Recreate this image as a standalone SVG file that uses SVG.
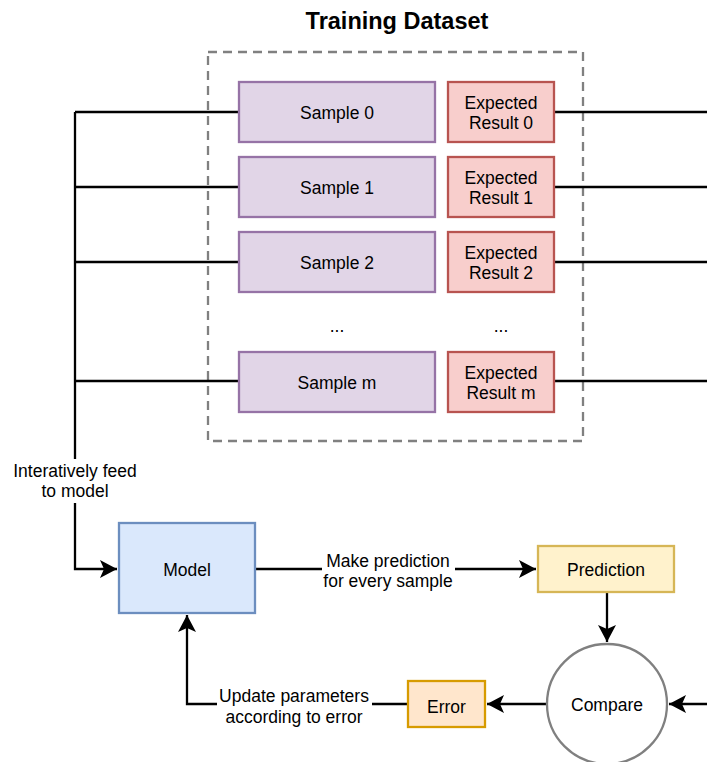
<svg xmlns="http://www.w3.org/2000/svg" width="707" height="762" viewBox="0 0 707 762">
<defs>
<style>
text{font-family:"Liberation Sans",Arial,sans-serif;font-size:17.5px;fill:#000;text-anchor:middle}
.title{font-weight:bold;font-size:23.5px}
.sample rect{fill:#e1d5e7;stroke:#9673a6;stroke-width:2.3}
.exp rect{fill:#f8cecc;stroke:#b85450;stroke-width:2.3}
.edge{fill:none;stroke:#000;stroke-width:2.3}
.arr{marker-end:url(#ah)}
.lbl{fill:#fff}
</style>
<marker id="ah" markerUnits="userSpaceOnUse" markerWidth="20" markerHeight="20" viewBox="-18 -10 20 20" refX="0" refY="0" orient="auto">
<path d="M0,0 L-17,-9 L-13,0 L-17,9 Z" fill="#000"/>
</marker>
</defs>
<rect width="707" height="762" fill="#fff"/>
<text class="title" x="397" y="29">Training Dataset</text>
<g id="dataset">
<rect x="208" y="52" width="375" height="389" fill="none" stroke="#808080" stroke-width="2.3" stroke-dasharray="9 6"/>
</g>
<g id="connectors">
<path class="edge" d="M75,112 H239 M75,187 H239 M75,262 H239 M75,381 H239"/>
<path class="edge" d="M554,112 H707 M554,187 H707 M554,262 H707 M554,381 H707"/>
<path class="edge arr" d="M75,112 V569 H117"/>
<path class="edge arr" d="M255,569 H536"/>
<path class="edge arr" d="M607,592 V642"/>
<path class="edge arr" d="M547,704 H487"/>
<path class="edge arr" d="M707,704 H669"/>
<path class="edge arr" d="M408,704 H187 V615"/>
<rect class="lbl" x="10" y="459" width="130" height="44"/>
<text x="75" y="477">Interatively feed</text>
<text x="75" y="497">to model</text>
<rect class="lbl" x="322" y="552" width="133" height="40"/>
<text x="388" y="567">Make prediction</text>
<text x="388" y="587">for every sample</text>
<rect class="lbl" x="217" y="687" width="155" height="40"/>
<text x="294" y="702">Update parameters</text>
<text x="294" y="723">according to error</text>
</g>
<g id="sample0" class="sample"><rect x="239" y="82" width="196" height="60"/><text x="337" y="119">Sample 0</text></g>
<g id="sample1" class="sample"><rect x="239" y="157" width="196" height="60"/><text x="337" y="194">Sample 1</text></g>
<g id="sample2" class="sample"><rect x="239" y="232" width="196" height="60"/><text x="337" y="269">Sample 2</text></g>
<g id="sampleDots"><text x="337" y="332">...</text></g>
<g id="samplem" class="sample"><rect x="239" y="352" width="196" height="60"/><text x="337" y="389">Sample m</text></g>
<g id="result0" class="exp"><rect x="448" y="82" width="106" height="60"/><text x="501" y="109">Expected</text><text x="501" y="129">Result 0</text></g>
<g id="result1" class="exp"><rect x="448" y="157" width="106" height="60"/><text x="501" y="184">Expected</text><text x="501" y="204">Result 1</text></g>
<g id="result2" class="exp"><rect x="448" y="232" width="106" height="60"/><text x="501" y="259">Expected</text><text x="501" y="279">Result 2</text></g>
<g id="resultDots"><text x="501" y="332">...</text></g>
<g id="resultm" class="exp"><rect x="448" y="352" width="106" height="60"/><text x="501" y="379">Expected</text><text x="501" y="399">Result m</text></g>
<g id="model"><rect x="119" y="523" width="136" height="90" fill="#dae8fc" stroke="#6c8ebf" stroke-width="2.3"/><text x="187" y="576">Model</text></g>
<g id="prediction"><rect x="538" y="546" width="136" height="46" fill="#fff2cc" stroke="#d6b656" stroke-width="2.3"/><text x="606" y="576">Prediction</text></g>
<g id="compare"><circle cx="607" cy="704" r="60" fill="#fff" stroke="#808080" stroke-width="2.3"/><text x="607" y="711">Compare</text></g>
<g id="error"><rect x="408" y="681" width="77" height="46" fill="#ffe6cc" stroke="#d79b00" stroke-width="2.3"/><text x="446.5" y="713">Error</text></g>
</svg>
